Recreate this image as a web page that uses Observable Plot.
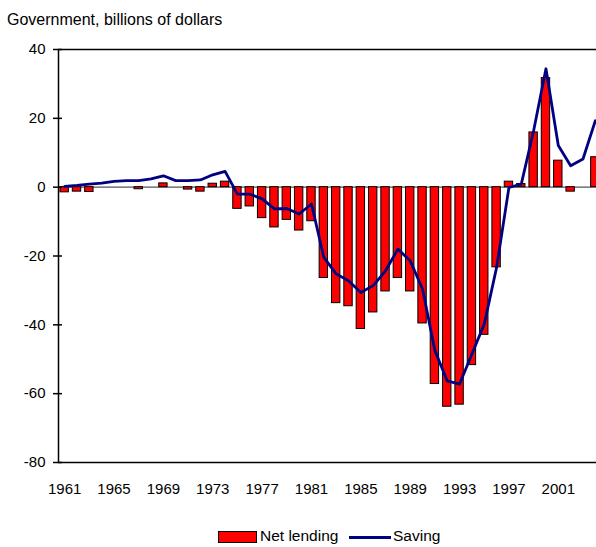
<!DOCTYPE html>
<html>
<head>
<meta charset="utf-8">
<script src="https://cdn.jsdelivr.net/npm/d3@7"></script>
<script src="https://cdn.jsdelivr.net/npm/@observablehq/plot@0.6"></script>
<style>
  html, body { margin: 0; padding: 0; background: #fff; overflow: hidden; }
  #wrap { position: relative; width: 596px; height: 547px; overflow: hidden; font-family: "Liberation Sans", Arial, sans-serif; color: #000; }
  #title { position: absolute; left: 7px; top: 11px; font-size: 16px; white-space: nowrap; }
  #chart { position: absolute; left: 0; top: 0; width: 601px; }
  .leg { position: absolute; font-size: 15.5px; white-space: nowrap; }
</style>
</head>
<body>
<div id="wrap">
  <div id="chart"></div>
  <div id="title">Government, billions of dollars</div>
  <div class="leg" style="left:218px; top:531px; width:37px; height:10px; background:#ff0000; border:1px solid #000;"></div>
  <div class="leg" style="left:260px; top:527px;">Net lending</div>
  <div class="leg" style="left:349px; top:536px; width:42px; height:3px; background:#000080;"></div>
  <div class="leg" style="left:393px; top:527px;">Saving</div>
</div>
<script>
const years = [1961,1962,1963,1964,1965,1966,1967,1968,1969,1970,1971,1972,1973,1974,1975,1976,1977,1978,1979,1980,1981,1982,1983,1984,1985,1986,1987,1988,1989,1990,1991,1992,1993,1994,1995,1996,1997,1998,1999,2000,2001,2002,2003,2004];
const netLending = [-1.5,-1.3,-1.4,0,0,0,-0.6,0,1.1,0,-0.7,-1.3,1.0,1.6,-6.3,-5.6,-9.0,-11.7,-9.5,-12.6,-9.9,-26.4,-33.7,-34.6,-41.2,-36.4,-30.3,-26.4,-30.3,-39.6,-57.2,-63.8,-63.2,-51.7,-42.9,-23.3,1.6,0.9,15.9,31.7,7.7,-1.3,0,8.7];
const saving = [0.2,0.5,0.9,1.2,1.7,1.9,1.9,2.4,3.3,1.9,1.9,2.1,3.6,4.6,-2.0,-2.0,-3.4,-6.3,-6.2,-7.8,-4.9,-20.4,-25.2,-27.2,-30.6,-28.6,-24.3,-18.0,-21.4,-29.6,-47.5,-56.3,-57.2,-48.5,-39.8,-23.3,-0.1,0.9,16.4,34.4,12.1,6.2,8.2,19.3];
const xTickLabels = [1961,1965,1969,1973,1977,1981,1985,1989,1993,1997,2001];
const yTicks = [-80,-60,-40,-20,0,20,40];

const rows = years.map((y, i) => ({year: y, lending: netLending[i], saving: saving[i]}));

const chart = Plot.plot({
  width: 601,
  height: 510,
  marginLeft: 58,
  marginRight: 0,
  marginTop: 49,
  marginBottom: 48,
  style: "max-width:none; background:transparent; font-family:'Liberation Sans', Arial, sans-serif; font-size:15px; color:#000;",
  x: {type: "band", domain: years, paddingInner: 0.32, paddingOuter: 0.16, round: false, label: null},
  y: {domain: [-80, 40], label: null},
  marks: [
    Plot.ruleY([0], {stroke: "#555", strokeWidth: 1.2}),
    Plot.barY(rows.filter(d => d.lending !== 0), {x: "year", y: "lending", fill: "#ff0000", stroke: "#000", strokeWidth: 1}),
    Plot.lineY(rows, {x: "year", y: "saving", stroke: "#000080", strokeWidth: 2.8}),
    Plot.frame({stroke: "#000", strokeWidth: 1.5}),
    Plot.axisY({ticks: yTicks, tickSize: 5, tickPadding: 8, fontSize: 15, tickFormat: d => String(d), label: null, strokeWidth: 1.5}),
    Plot.axisY({ticks: yTicks, tickSize: -4, tickFormat: () => "", label: null, strokeWidth: 1.5}),
    Plot.axisX({ticks: xTickLabels, tickSize: 0, tickPadding: 21, fontSize: 15, tickFormat: d => String(d), label: null})
  ]
});
document.getElementById("chart").appendChild(chart);
</script>
</body>
</html>
